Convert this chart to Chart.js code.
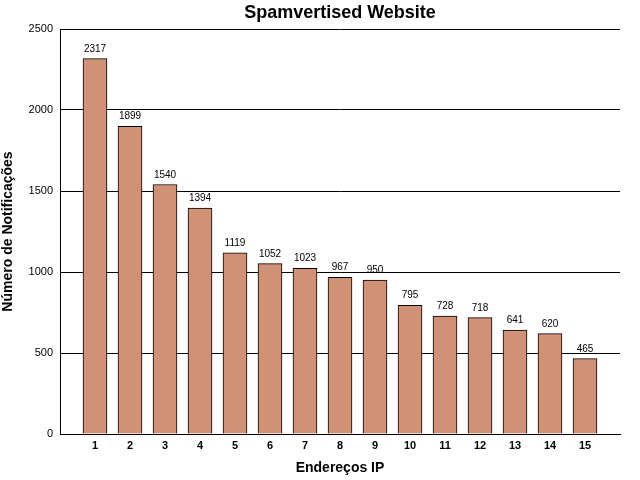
<!DOCTYPE html>
<html>
<head>
<meta charset="utf-8">
<script src="https://cdn.jsdelivr.net/npm/chart.js@4"></script>
<style>
  html, body { margin: 0; padding: 0; background: #fff; }
  #wrap { width: 640px; height: 480px; }
</style>
</head>
<body>
<div id="wrap"><canvas id="myBarChart" width="640" height="480"></canvas></div>
<script>
// categories (IP address rank) and counts
const ips = ['1', '2', '3', '4', '5', '6', '7', '8', '9', '10', '11', '12', '13', '14', '15'];
const notificacoes = [2317, 1899, 1540, 1394, 1119, 1052, 1023, 967, 950, 795, 728, 718, 641, 620, 465];
const yTicks = [0, 500, 1000, 1500, 2000, 2500];

const FONT = "'Liberation Sans', Arial, sans-serif";

// draw the number above every bar
const valueLabels = {
	id: 'valueLabels',
	afterDatasetsDraw: function(chart) {
		const ctx = chart.ctx;
		const meta = chart.getDatasetMeta(0);
		ctx.save();
		ctx.font = '10px ' + FONT;
		ctx.fillStyle = '#000';
		ctx.textAlign = 'center';
		ctx.textBaseline = 'alphabetic';
		meta.data.forEach(function(bar, i) {
			ctx.fillText(String(notificacoes[i]), bar.x, bar.y - 7);
		});
		ctx.restore();
	}
};

const ctx = document.getElementById('myBarChart').getContext('2d');
const myBarChart = new Chart(ctx, {
	type: 'bar',
	data: {
		datasets: [{
			label: 'Número de Notificações',
			data: notificacoes.map(function(v, i) { return { x: i + 1, y: v }; }),
			backgroundColor: '#d09276',
			borderColor: '#000',
			borderWidth: 1,
			barThickness: 24
		}]
	},
	options: {
		responsive: false,
		animation: false,
		layout: { padding: { top: 0, right: 20, bottom: 0, left: 0 } },
		plugins: {
			legend: { display: false },
			tooltip: { enabled: false },
			title: {
				display: true,
				fullSize: false,
				text: 'Spamvertised Website',
				color: '#000',
				font: { family: FONT, size: 18, weight: 'bold' },
				padding: { top: 2, bottom: 5.4 }
			}
		},
		scales: {
			x: {
				type: 'linear',
				offset: false,
				min: 0,
				max: ips.length + 1,
				afterBuildTicks: function(scale) {
					scale.ticks = ips.map(function(_, i) { return { value: i + 1 }; });
				},
				afterFit: function(scale) { scale.height = 46; },
				grid: { display: false, drawTicks: false, offset: false },
				border: { display: true, color: '#000', width: 1 },
				ticks: {
					padding: 5,
					color: '#000',
					autoSkip: false,
					maxRotation: 0,
					font: { family: FONT, size: 11, weight: 'bold' },
					callback: function(v) { return ips[v - 1] || ''; }
				},
				title: {
					display: true,
					text: 'Endereços IP',
					color: '#000',
					font: { family: FONT, size: 14, weight: 'bold' },
					padding: { top: 0, bottom: 3.6 }
				}
			},
			y: {
				min: 0,
				max: 2500,
				afterBuildTicks: function(scale) {
					scale.ticks = yTicks.map(function(v) { return { value: v }; });
				},
				afterFit: function(scale) { scale.width = 60; },
				grid: { color: '#000', lineWidth: 1, drawTicks: false },
				border: { display: true, color: '#000', width: 1 },
				ticks: {
					padding: 7,
					color: '#000',
					font: { family: FONT, size: 11 },
					callback: function(v) { return String(v); }
				},
				title: {
					display: true,
					text: 'Número de Notificações',
					color: '#000',
					font: { family: FONT, size: 14, weight: 'bold' },
					padding: { top: 0, bottom: 0 }
				}
			}
		}
	},
	plugins: [valueLabels]
});
</script>
</body>
</html>
